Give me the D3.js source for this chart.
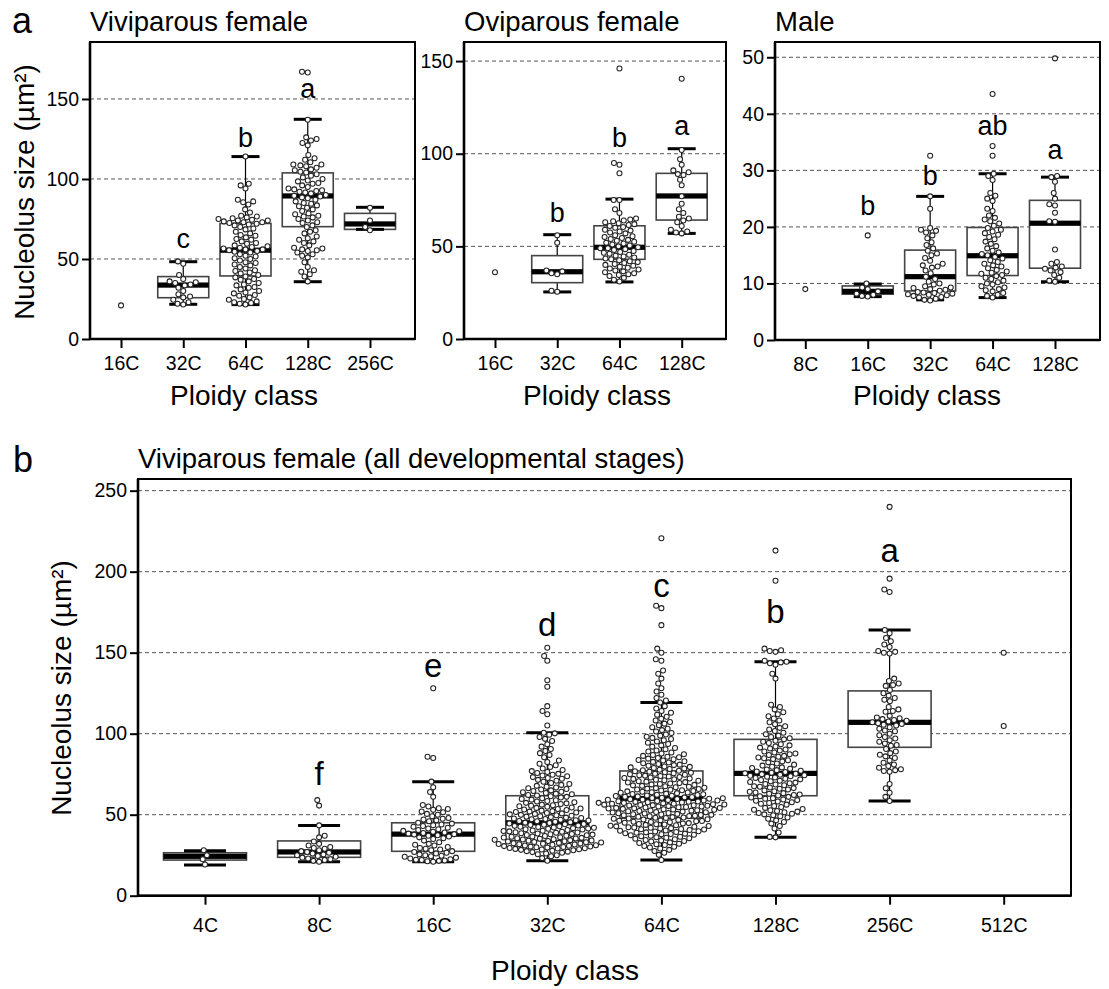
<!DOCTYPE html>
<html><head><meta charset="utf-8">
<script src="https://cdn.jsdelivr.net/npm/d3@7"></script>
<style>
body{margin:0;background:#fff}
text{font-family:"Liberation Sans", Arial, Helvetica, sans-serif; fill:#000}
</style>
</head><body>
<svg id="c" width="1109" height="989"></svg>
<script>
// ---------------- DATA ----------------
// Panel a: Viviparous female
const viviCats = ["16C","32C","64C","128C","256C"];
const viviValues = [
  [21],
  [48.5,47,40,37.5,36,35.5,35,34,33.5,32,30,28,26.5,26,24.5,23,22,21.5],
  [114,97,96,94,87,86,85.5,84,81,79,77,76.5,76,75.5,75,74.5,74,74,73.5,73,73,72.5,72,71.5,71,70,69,68.5,67,66,65,64.5,63.5,62.5,62,61,60,59.5,58.5,58,57.5,57,56.5,56,56,55.5,55,54.5,54,53,52,51.5,50.5,50,49,48,47.5,46.5,46,45,44,43,42.5,41.5,41,40,39,38.5,37.5,37,36,35,34,33.5,32.5,32,31,30,29,28.5,27.5,27,26,25,24.5,23.5,23,22.5,22,21.5],
  [167,166.5,137,126,125,124,122.5,121,115,113,112,110.5,109,109,108.5,108,107,106,105.5,104.5,104,103,102,101,100,99,98.5,97.5,97,96,95,94,93.5,93,92.5,92,91.5,91,90,89.5,89,88.5,88,87,86,85,84.5,83.5,83,82,81,80,78.5,78,77,76.5,76,75,74,73,72.5,71,70,68,67,66,64,63,62,61,60,58.5,57,56.5,56,55.5,55,54,53,52,51,48,45,43,42,40.5,39,36],
  [82,74,70,68]
];
// box stats: [lower whisker, Q1, median, Q3, upper whisker]
const viviBoxes = [null,[21.7,25.8,33.7,39,48.3],[21.5,39.4,55.5,72.2,114],[35.8,70.2,89.4,103.8,137.3],[68.5,68.5,71.9,78.5,82.3]];
const viviLetters = ["","c","b","a",""];
const viviLetterY = [0,56.9,120,150.6,0];
const viviTicks = [0,50,100,150];

// Panel a: Oviparous female
const oviCats = ["16C","32C","64C","128C"];
const oviValues = [
  [36],
  [56,52,37,36.5,35.5,35,26,25.5],
  [146,95,94,89.5,75,75,70,68,65,64.5,64,63.5,63,62.5,62,61.5,61,60.5,60,59,58.5,58,57.5,57,56,55.5,55,54.5,54,53.5,53,52.5,52,51.5,51,50.5,50,49.5,49,49,48.5,48,47.5,47,46.5,46,45.5,45,44.5,44,43.5,43,42.5,42,41.5,41,40.5,40,39.5,39,38.5,38,37.5,37,36.5,36,35.5,35,34.5,34,33,32,31],
  [140.5,102,97,94,91,90,89,88.5,86,83,77,73,70,68,66,65,64,63,61,59,58,57.5,57]
];
const oviBoxes = [null,[25.4,30.4,36.3,45,56.3],[30.8,43,49.5,61.1,75.5],[57,64.2,77.2,89.4,102.7]];
const oviLetters = ["","b","b","a"];
const oviLetterY = [0,63.1,103.6,110.1];
const oviTicks = [0,50,100,150];

// Panel a: Male
const maleCats = ["8C","16C","32C","64C","128C"];
const maleValues = [
  [9],
  [18.5,10,9.3,9,8.6,8.2,8,7.8,7.7],
  [32.6,25.4,23.2,19.8,19.5,19.3,19,18.5,18,17.3,16.8,16.2,15.8,15.3,15,14.5,14,13.5,13.2,13,12.8,12.3,11.8,11.2,10.8,10.3,10,9.8,9.5,9.3,9.2,9,8.9,8.7,8.5,8.4,8.3,8.2,8.1,8,7.9,7.8,7.6,7.5,7.3,7.1,7],
  [43.5,34.3,32.6,29.4,29,28.3,26,25.5,25,24.6,23.2,22.8,22,21.6,21.3,21,20.6,20.2,19.8,19.5,19.2,18.9,18.6,18.2,17.8,17.4,17,16.6,16.2,15.8,15.5,15.2,15,14.7,14.4,14.1,13.8,13.5,13.2,13,12.7,12.4,12.1,11.9,11.7,11.5,11.3,11,10.8,10.5,10.2,10,9.8,9.5,9.3,9,8.8,8.6,8.3,8,7.8,7.5],
  [49.8,29,28.8,28,26,25,24,23.8,22.5,21,20.9,16,13.8,13.5,13,12.8,12.6,12.3,12,11.5,11,10.5,10.3]
];
const maleBoxes = [null,[7.67,8.1,8.6,9.56,9.9],[7.1,8.67,11.2,15.9,25.4],[7.5,11.4,14.9,19.9,29.4],[10.3,12.7,20.65,24.7,28.8]];
const maleLetters = ["","b","b","ab","a"];
const maleLetterY = [0,22.1,27.4,36.3,32.0];
const maleTicks = [0,10,20,30,40,50];

// Panel b: Viviparous female (all developmental stages)
const allCats = ["4C","8C","16C","32C","64C","128C","256C","512C"];
const all4 = [28,25,22.5,19.2];
const all8 = [59,55.6,43.4,37,36,33.5,32,31,30,29.5,29,28,27.5,27,26.5,26,25.5,25,24.5,24,23.5,23,22.5,22,21.5,21];
const all16 = [128,85.8,85,70.4,67,64,61,56,55,54,53.5,53,52,51.5,50.5,50,49,48,47.5,47,46.5,46,45,44.5,44,43.5,43,42.5,42,41.5,41,40.5,40,39.8,39.5,39,38.7,38.3,38,37.7,37.3,37,36.5,36,35.5,35,34,33,32,31.5,31,30,29.5,29,28.5,28,27.5,27,26.5,26,25.5,25,24.7,24.3,24,23.5,23,22.5,22.2,22,21.7,21.5,21.3,21];
const all32 = [21.6,23.2,24.3,25,25.6,26.1,26.5,26.9,27.2,27.5,27.8,28.1,28.3,28.5,28.7,28.9,29.1,29.3,29.5,29.7,29.9,30.1,30.3,30.4,30.6,30.8,31,31.2,31.4,31.6,31.8,31.9,32.1,32.2,32.4,32.6,32.8,33,33.2,33.4,33.6,33.8,33.9,34.1,34.3,34.5,34.7,34.9,35.1,35.3,35.5,35.7,35.9,36.1,36.4,36.6,36.8,37,37.3,37.5,37.7,37.9,38.1,38.4,38.6,38.8,39,39.2,39.5,39.7,39.9,40.1,40.3,40.6,40.8,41,41.3,41.5,41.7,41.9,42.1,42.4,42.6,42.9,43.1,43.3,43.6,43.8,44.1,44.3,44.6,44.9,45.1,45.4,45.6,45.9,46.1,46.4,46.6,46.9,47.2,47.4,47.7,47.9,48.2,48.5,48.8,49,49.3,49.6,49.9,50.2,50.5,50.8,51.1,51.4,51.7,51.9,52.2,52.5,52.9,53.2,53.5,53.8,54.2,54.5,54.9,55.2,55.5,55.8,56.2,56.6,57,57.3,57.7,58.1,58.5,58.9,59.3,59.7,60.2,60.6,61,61.4,61.8,62.2,62.6,63,63.4,63.8,64.2,64.6,65,65.5,65.9,66.3,66.8,67.3,67.8,68.4,69,69.6,70.3,70.9,71.5,72.2,72.7,73.2,73.7,74.2,74.7,75.2,75.7,76.3,76.9,77.6,78.5,79.4,80.5,81.5,82.5,83.5,85.5,86.8,88,89.3,90.5,92,93.5,95.5,96.8,98,99.3,100.2,100.6,105,112,114,117,129,133,145,148,153];
const all64 = [22,25.2,26.5,27.6,28.3,29.1,29.8,30.2,30.7,31.3,31.8,32.1,32.5,32.9,33.4,33.8,34.1,34.4,34.8,35.1,35.5,35.8,36.1,36.4,36.7,37,37.3,37.6,37.9,38.1,38.3,38.6,38.8,39.1,39.3,39.6,39.8,40.1,40.3,40.5,40.8,41,41.2,41.5,41.7,41.9,42.1,42.3,42.5,42.8,43,43.2,43.5,43.7,43.9,44.1,44.3,44.6,44.8,45,45.3,45.5,45.7,45.9,46.1,46.3,46.5,46.8,47,47.2,47.5,47.7,47.9,48.1,48.3,48.5,48.7,49,49.2,49.4,49.6,49.8,49.9,50.1,50.3,50.5,50.7,50.9,51.1,51.3,51.5,51.7,51.9,52.1,52.3,52.5,52.6,52.8,53,53.2,53.4,53.6,53.8,53.9,54.1,54.2,54.4,54.6,54.8,55,55.1,55.3,55.5,55.7,55.8,55.9,56,56.2,56.3,56.5,56.7,56.8,57,57.2,57.3,57.5,57.7,57.9,58,58.2,58.3,58.5,58.7,58.8,59,59.2,59.3,59.5,59.7,59.9,60.1,60.3,60.5,60.7,60.9,61.1,61.3,61.5,61.7,61.9,62.1,62.3,62.6,62.8,63,63.3,63.5,63.7,63.9,64.1,64.4,64.6,64.9,65.1,65.4,65.6,65.9,66.1,66.4,66.6,66.9,67.2,67.5,67.8,68.1,68.4,68.7,69,69.3,69.6,69.9,70.1,70.4,70.7,71,71.3,71.6,71.9,72.1,72.4,72.7,73,73.3,73.6,73.9,74.1,74.4,74.7,75,75.3,75.6,75.9,76.2,76.5,76.8,77.1,77.4,77.8,78.2,78.5,78.8,79.2,79.5,79.8,80.2,80.6,80.9,81.3,81.7,82.2,82.6,83,83.4,83.8,84.2,84.6,85,85.4,85.8,86.3,86.8,87.3,87.8,88.4,89,89.6,90.4,91.2,92,92.8,93.6,94.4,95.2,96,96.7,97.4,98.1,98.8,99.5,100.4,101.3,102.2,103.1,104,105.2,106.2,107.2,108.2,109.2,110.5,111.7,112.9,114,115.5,117,119.2,120.5,122,124,126,128,131,134,137,139,145,146,150,152.5,167,177.5,179,220.6];
const all128 = [36,36.3,39,41.5,43,44.5,45.5,46.5,47.5,48.3,49,49.6,50.2,50.6,51,51.5,51.9,52.3,52.7,53.1,53.5,54.2,54.8,55.4,56.2,56.7,57.2,57.7,58.2,58.6,59,59.4,59.8,60.2,60.6,61,61.4,61.8,62.2,62.5,62.9,63.3,63.7,64.1,64.5,65,65.5,66,66.4,66.8,67.2,67.6,68.2,68.6,69,69.4,69.8,70.2,70.6,71,71.4,71.8,72.2,72.6,73,73.4,73.7,74,74.3,74.6,75,75.3,75.6,75.9,76.3,76.7,77.1,77.5,77.9,78.3,78.8,79.2,79.6,80.3,80.9,81.6,82.3,82.9,83.6,84.3,84.8,85.3,85.8,86.3,86.8,87.3,87.8,88.4,89,89.6,90.2,90.8,91.4,92.1,92.8,93.5,94.3,95,95.7,96.5,97.2,98,98.8,99.6,100.6,101.6,102.6,103.6,104.6,105.8,107,108.2,109.4,110.8,112,113.2,115,116.5,117.8,134,137,142.5,143.5,144,144.4,145,150.5,151,151.5,152.5,194.4,213];
const all256 = [240,195.7,189,187.5,164,162,159,157,155,153.5,151,150.5,150,149.5,134,132.5,131,130,129.5,127,125,123.5,122,121,120,116.5,115,114,113.5,111,110,109.5,109,108.5,108,107.5,107,106.5,106,105.5,105,104,103,102,101.5,100,99,98,97,96,95,94,93,92.5,90.5,89,88,87,86,85,83.5,82,81,80,79,78,77.5,77,76.5,69,66.3,63.6,61,58.5];
const all512 = [150,104.8];
const allValues = [all4,all8,all16,all32,all64,all128,all256,all512];
const allBoxes = [[19,22,24.3,26.5,27.8],[21,23.7,27,33.8,43.4],[21,27.4,38,45,70.4],[21.6,34,45,61.7,100.6],[22,47.8,60,77,119.3],[36,61.7,75.5,96.5,144.4],[58.5,91.6,107,126.4,164],null];
const allLetters = ["","f","e","d","c","b","a",""];
const allLetterY = [0,68.3,135,160.3,184.4,168.3,206,0];
const allTicks = [0,50,100,150,200,250];

// ---------------- LAYOUT ----------------
const svg = d3.select("#c");
const FONT = '"Liberation Sans", Arial, Helvetica, sans-serif';

function swarm(vals, y, d) {
  const pts = vals.map(v => ({v, py: y(v), x: 0})).sort((a, b) => b.py - a.py);
  const placed = [];
  for (const p of pts) {
    const near = placed.filter(q => Math.abs(q.py - p.py) < d);
    const cands = [0];
    near.forEach(q => {
      const dx = Math.sqrt(d * d - (q.py - p.py) ** 2);
      cands.push(q.x + dx, q.x - dx);
    });
    cands.sort((a, b) => Math.abs(a) - Math.abs(b) || a - b);
    for (const c of cands) {
      if (near.every(q => (q.x - c) ** 2 + (q.py - p.py) ** 2 >= d * d - 0.01)) { p.x = c; break; }
    }
    placed.push(p);
  }
  return placed;
}

function panel(cfg) {
  const g = svg.append("g");
  const x = d3.scalePoint().domain(cfg.cats).range([cfg.px0, cfg.px1]);
  const y = d3.scaleLinear().domain([0, cfg.ymax]).range([cfg.bottom, cfg.top]);

  g.selectAll("line.grid").data(cfg.ticks.filter(t => t > 0)).join("line")
    .attr("x1", cfg.fx0).attr("x2", cfg.fx1)
    .attr("y1", d => y(d)).attr("y2", d => y(d))
    .attr("stroke", "#555").attr("stroke-width", 1).attr("stroke-dasharray", "4,3");

  cfg.cats.forEach((c, i) => {
    const cx = x(c);
    const b = cfg.box[i];
    if (b) {
      const [lo, q1, med, q3, hi] = b;
      g.append("line").attr("x1", cx).attr("x2", cx).attr("y1", y(q3)).attr("y2", y(hi)).attr("stroke", "#000").attr("stroke-width", 1.2);
      g.append("line").attr("x1", cx).attr("x2", cx).attr("y1", y(q1)).attr("y2", y(lo)).attr("stroke", "#000").attr("stroke-width", 1.2);
      g.append("rect").attr("x", cx - cfg.boxW / 2).attr("y", y(q3)).attr("width", cfg.boxW).attr("height", y(q1) - y(q3))
        .attr("fill", "#fff").attr("stroke", "#444").attr("stroke-width", 1.6);
      g.append("rect").attr("x", cx - cfg.boxW / 2).attr("y", y(med) - 2.6).attr("width", cfg.boxW).attr("height", 5.2).attr("fill", "#000");
      [lo, hi].forEach(v => g.append("line").attr("x1", cx - cfg.capW / 2).attr("x2", cx + cfg.capW / 2)
        .attr("y1", y(v)).attr("y2", y(v)).attr("stroke", "#000").attr("stroke-width", 3));
    }
    const pts = swarm(cfg.vals[i], y, 5.8);
    g.selectAll(null).data(pts).join("circle")
      .attr("cx", p => cx + p.x).attr("cy", p => p.py).attr("r", 2.5)
      .attr("fill", "#fff").attr("stroke", "#222").attr("stroke-width", 1.05);
    if (cfg.letters[i]) {
      g.append("text").attr("x", cx).attr("y", y(cfg.letterY[i])).attr("text-anchor", "middle")
        .style("font-size", cfg.letterSize + "px").text(cfg.letters[i]);
    }
  });

  g.append("rect").attr("x", cfg.fx0).attr("y", cfg.top).attr("width", cfg.fx1 - cfg.fx0).attr("height", cfg.bottom - cfg.top)
    .attr("fill", "none").attr("stroke", "#000").attr("stroke-width", 2);
  g.append("line").attr("x1", cfg.fx0).attr("x2", cfg.fx0).attr("y1", cfg.top).attr("y2", cfg.bottom).attr("stroke", "#000").attr("stroke-width", 2.6);
  g.append("line").attr("x1", cfg.fx0).attr("x2", cfg.fx1).attr("y1", cfg.bottom).attr("y2", cfg.bottom).attr("stroke", "#000").attr("stroke-width", 2.6);

  const ya = g.append("g").attr("transform", `translate(${cfg.fx0},0)`)
    .call(d3.axisLeft(y).tickValues(cfg.ticks).tickSize(8).tickPadding(3).tickFormat(d3.format("d")));
  const xa = g.append("g").attr("transform", `translate(0,${cfg.bottom})`)
    .call(d3.axisBottom(x).tickSize(9).tickPadding(cfg.xPad));
  [ya, xa].forEach(a => {
    a.select(".domain").remove();
    a.selectAll(".tick line").attr("stroke", "#000").attr("stroke-width", 2);
    a.selectAll(".tick text").style("font-size", "19.5px").style("font-family", FONT).attr("fill", "#000");
  });

  g.append("text").attr("x", cfg.fx0).attr("y", cfg.titleY).style("font-size", "27.5px").text(cfg.title);
  g.append("text").attr("x", cfg.xTitleX).attr("y", cfg.xTitleY).attr("text-anchor", "middle").style("font-size", "28px").text("Ploidy class");
  if (cfg.yTitle) {
    g.append("text").attr("transform", `translate(${cfg.yTitle[0]},${cfg.yTitle[1]}) rotate(-90)`)
      .attr("text-anchor", "middle").style("font-size", "28px").text("Nucleolus size (µm²)");
  }
}

panel({cats: viviCats, vals: viviValues, box: viviBoxes, letters: viviLetters, letterY: viviLetterY, ticks: viviTicks,
  fx0: 90, fx1: 415, top: 42, bottom: 339, ymax: 185.6, px0: 121, px1: 370,
  boxW: 51, capW: 28, letterSize: 27, xPad: 8.5, title: "Viviparous female", titleY: 31,
  xTitleX: 244, xTitleY: 405, yTitle: [34, 192]});
panel({cats: oviCats, vals: oviValues, box: oviBoxes, letters: oviLetters, letterY: oviLetterY, ticks: oviTicks,
  fx0: 464, fx1: 726, top: 42, bottom: 339, ymax: 160.3, px0: 495, px1: 681.7,
  boxW: 51, capW: 28, letterSize: 27, xPad: 8.5, title: "Oviparous female", titleY: 31,
  xTitleX: 597, xTitleY: 405});
panel({cats: maleCats, vals: maleValues, box: maleBoxes, letters: maleLetters, letterY: maleLetterY, ticks: maleTicks,
  fx0: 775, fx1: 1100, top: 42, bottom: 340, ymax: 52.7, px0: 805.3, px1: 1055,
  boxW: 51, capW: 28, letterSize: 27, xPad: 8.5, title: "Male", titleY: 31,
  xTitleX: 927, xTitleY: 405});
panel({cats: allCats, vals: allValues, box: allBoxes, letters: allLetters, letterY: allLetterY, ticks: allTicks,
  fx0: 138, fx1: 1071, top: 479, bottom: 895.7, ymax: 257.2, px0: 205, px1: 1003.7,
  boxW: 83, capW: 42, letterSize: 33, xPad: 13.8, title: "Viviparous female (all developmental stages)", titleY: 468,
  xTitleX: 565, xTitleY: 980, yTitle: [71, 688]});

svg.append("text").attr("x", 12).attr("y", 33).style("font-size", "36px").text("a");
svg.append("text").attr("x", 13).attr("y", 472).style("font-size", "36px").text("b");
</script>
</body></html>
